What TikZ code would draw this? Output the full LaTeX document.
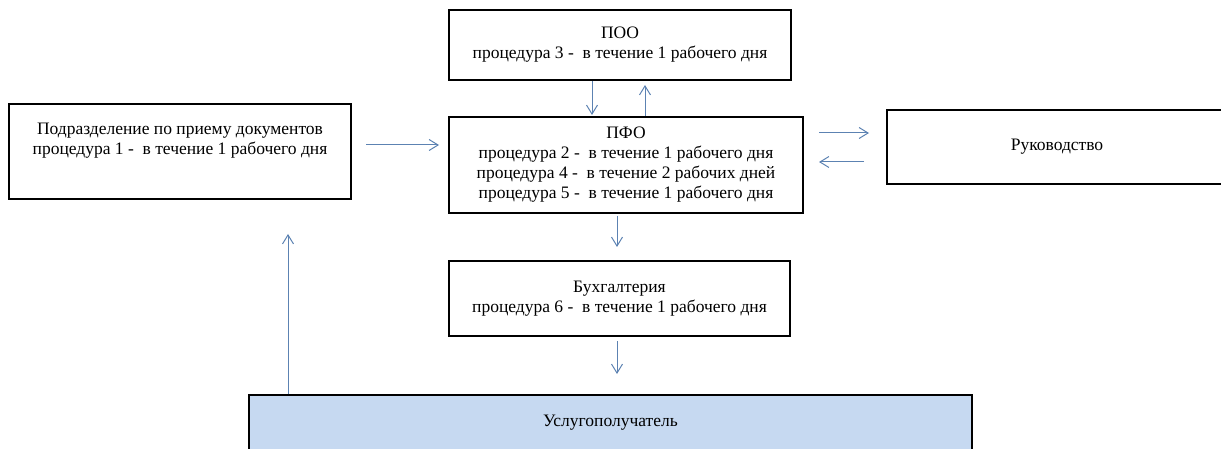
\documentclass[tikz,border=0pt]{standalone}
\usepackage{fontspec}
\setmainfont{Liberation Serif}
\usetikzlibrary{arrows.meta}
\definecolor{flowblue}{RGB}{92,130,178}
\definecolor{clientfill}{RGB}{198,217,241}

\begin{document}
\begin{tikzpicture}[x=1pt,y=-1pt,
    box/.style={draw, line width=2pt, align=center, inner sep=0pt,
      font=\fontsize{17.5}{20}\selectfont},
    flow/.style={draw=flowblue, line width=1pt,
      -{Straight Barb[length=9pt,width=11pt]}}]
        \useasboundingbox (0,0) rectangle (1221,449);
        % blocks
        \node[box, minimum width=342pt, minimum height=95pt] (podr) at (180,151.5)
          {Подразделение по приему документов\\процедура 1 - ~в течение 1 рабочего дня\\\strut};
        \node[box, minimum width=342pt, minimum height=70pt] (poo) at (620,45)
          {ПОО\\процедура 3 - ~в течение 1 рабочего дня};
        \node[box, minimum width=354pt, minimum height=96pt] (pfo) at (626,165)
          {ПФО\\процедура 2 - ~в течение 1 рабочего дня\\процедура 4 - ~в течение 2 рабочих дней\\процедура 5 - ~в течение 1 рабочего дня};
        \node[box, minimum width=340pt, minimum height=74pt] (ruk) at (1057,147)
          {Руководство};
        \node[box, minimum width=341pt, minimum height=75pt] (buh) at (619.5,298.5)
          {Бухгалтерия\\процедура 6 - ~в течение 1 рабочего дня};
        \node[box, fill=clientfill, minimum width=723pt, minimum height=55pt] (usl) at (610.5,422.5)
          {Услугополучатель};
        % arrows
        \draw[flow, shorten <=14pt, shorten >=9pt] (podr.east |- 0,145) -- (pfo.west |- 0,145);
        \draw[flow, shorten >=1pt] (poo.south -| 592,0) -- (pfo.north -| 592,0);
        \draw[flow, shorten >=4pt] (pfo.north -| 645,0) -- (poo.south -| 645,0);
        \draw[flow, shorten <=15pt, shorten >=17pt] (pfo.east |- 0,133) -- (ruk.west |- 0,133);
        \draw[flow, shorten <=22pt, shorten >=15pt] (ruk.west |- 0,162) -- (pfo.east |- 0,162);
        \draw[flow, shorten <=2pt, shorten >=13pt] (pfo.south -| 617,0) -- (buh.north -| 617,0);
        \draw[flow, shorten <=4pt, shorten >=20pt] (buh.south -| 617,0) -- (usl.north -| 617,0);
        \draw[flow, shorten >=34pt] (usl.north -| 288,0) -- (podr.south -| 288,0);
\end{tikzpicture}
\end{document}
